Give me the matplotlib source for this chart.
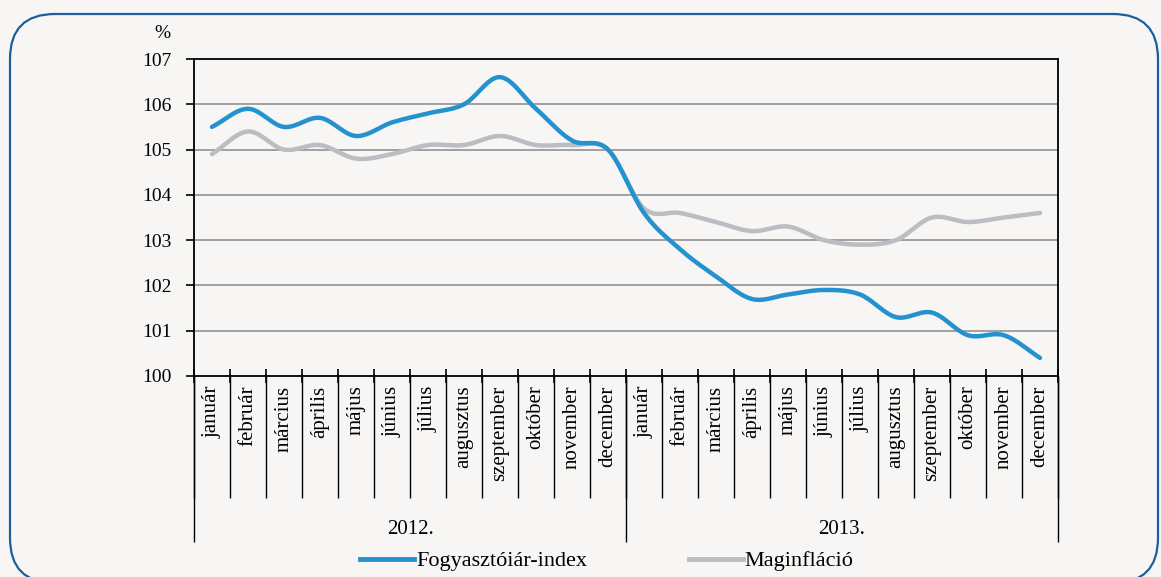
import numpy as np
import matplotlib.pyplot as plt
from matplotlib.lines import Line2D
from matplotlib.patches import FancyBboxPatch

# Havi adatok, 2012 január - 2013 december
months = ['január', 'február', 'március', 'április', 'május', 'június',
          'július', 'augusztus', 'szeptember', 'október', 'november', 'december']
years = ['2012.', '2013.']
fogyasztoi = [105.5, 105.9, 105.5, 105.7, 105.3, 105.6, 105.8, 106.0, 106.6, 105.9, 105.2, 105.0,
              103.6, 102.8, 102.2, 101.7, 101.8, 101.9, 101.8, 101.3, 101.4, 100.9, 100.9, 100.4]
maginflacio = [104.9, 105.4, 105.0, 105.1, 104.8, 104.9, 105.1, 105.1, 105.3, 105.1, 105.1, 105.0,
               103.7, 103.6, 103.4, 103.2, 103.3, 103.0, 102.9, 103.0, 103.5, 103.4, 103.5, 103.6]

BLUE = '#2592d0'
GREY = '#babdc1'
BG = '#f7f6f4'
FONT = 'Liberation Serif'


def smooth(y, steps=20):
    # Catmull-Rom gorbe a pontokon at (Excel "simitott vonal" utanzata)
    y = np.asarray(y, dtype=float)
    x = np.arange(len(y), dtype=float)
    p = np.concatenate([[2 * y[0] - y[1]], y, [2 * y[-1] - y[-2]]])
    xs, ys = [], []
    t = np.linspace(0, 1, steps, endpoint=False)
    for i in range(len(y) - 1):
        p0, p1, p2, p3 = p[i], p[i + 1], p[i + 2], p[i + 3]
        seg = 0.5 * ((2 * p1) + (-p0 + p2) * t + (2 * p0 - 5 * p1 + 4 * p2 - p3) * t ** 2
                     + (-p0 + 3 * p1 - 3 * p2 + p3) * t ** 3)
        xs.extend(x[i] + t)
        ys.extend(seg)
    xs.append(x[-1])
    ys.append(y[-1])
    return np.array(xs), np.array(ys)


fig = plt.figure(figsize=(11.61, 5.77), dpi=100)
fig.patch.set_facecolor(BG)

# hatter keret pixel-koordinatakban (y felfele no)
bg = fig.add_axes([0, 0, 1, 1], zorder=-1)
bg.set_xlim(0, 1161)
bg.set_ylim(0, 577)
bg.axis('off')
bg.add_patch(FancyBboxPatch((10, -6), 1148, 569, boxstyle='round,pad=0,rounding_size=45',
                            fc='none', ec='#1b5f9e', lw=1.6))

ax = fig.add_axes([194 / 1161, 1 - 376 / 577, 864 / 1161, 317 / 577])
ax.set_facecolor(BG)
n = len(fogyasztoi)
ax.set_xlim(-0.5, n - 0.5)
ax.set_ylim(100, 107)

for v in range(101, 107):
    ax.axhline(v, color='#9a9a9a', lw=1.3, zorder=1)

xs, ys = smooth(fogyasztoi)
ax.plot(xs, ys, color=BLUE, lw=3.2, solid_capstyle='round', zorder=3)
xs, ys = smooth(maginflacio)
ax.plot(xs, ys, color=GREY, lw=3.2, solid_capstyle='round', zorder=2)

for s in ax.spines.values():
    s.set_color('black')
    s.set_linewidth(1.3)

ax.set_yticks(range(100, 108))
ax.tick_params(axis='y', direction='out', length=6, width=1.2, pad=10, labelsize=14)
for lab in ax.get_yticklabels():
    lab.set_fontfamily(FONT)

bounds = np.arange(-0.5, n, 1)
ax.set_xticks(bounds)
ax.set_xticklabels([])
ax.tick_params(axis='x', direction='inout', length=10, width=1.2)

tr = ax.get_xaxis_transform()
labels = months * len(years)
for i, lab in enumerate(labels):
    ax.text(i, -0.03, lab, transform=tr, rotation=90, ha='center', va='top',
            fontsize=15, family=FONT)
ax.vlines(bounds, -0.385, 0, transform=tr, color='black', lw=1, clip_on=False)
ybounds = [-0.5, 11.5, 23.5]
ax.vlines(ybounds, -0.525, 0, transform=tr, color='black', lw=1, clip_on=False)
for k, yr in enumerate(years):
    ax.text(5.5 + 12 * k, -0.485, yr, transform=tr, ha='center', va='center',
            fontsize=15, family=FONT)

fig.text(162 / 1161, 1 - 34 / 577, '%', ha='center', va='center', fontsize=14, family=FONT)

handles = [Line2D([], [], color=BLUE, lw=3.5), Line2D([], [], color=GREY, lw=3.5)]
fig.legend(handles, ['Fogyasztóiár-index', 'Maginfláció'], loc='center',
           bbox_to_anchor=(607 / 1161, 1 - 561 / 577), ncol=2, frameon=False,
           handlelength=2.4, handletextpad=0.1, columnspacing=4.6,
           prop={'family': FONT, 'size': 16})

fig.savefig('out.png', dpi=100, facecolor=BG)
